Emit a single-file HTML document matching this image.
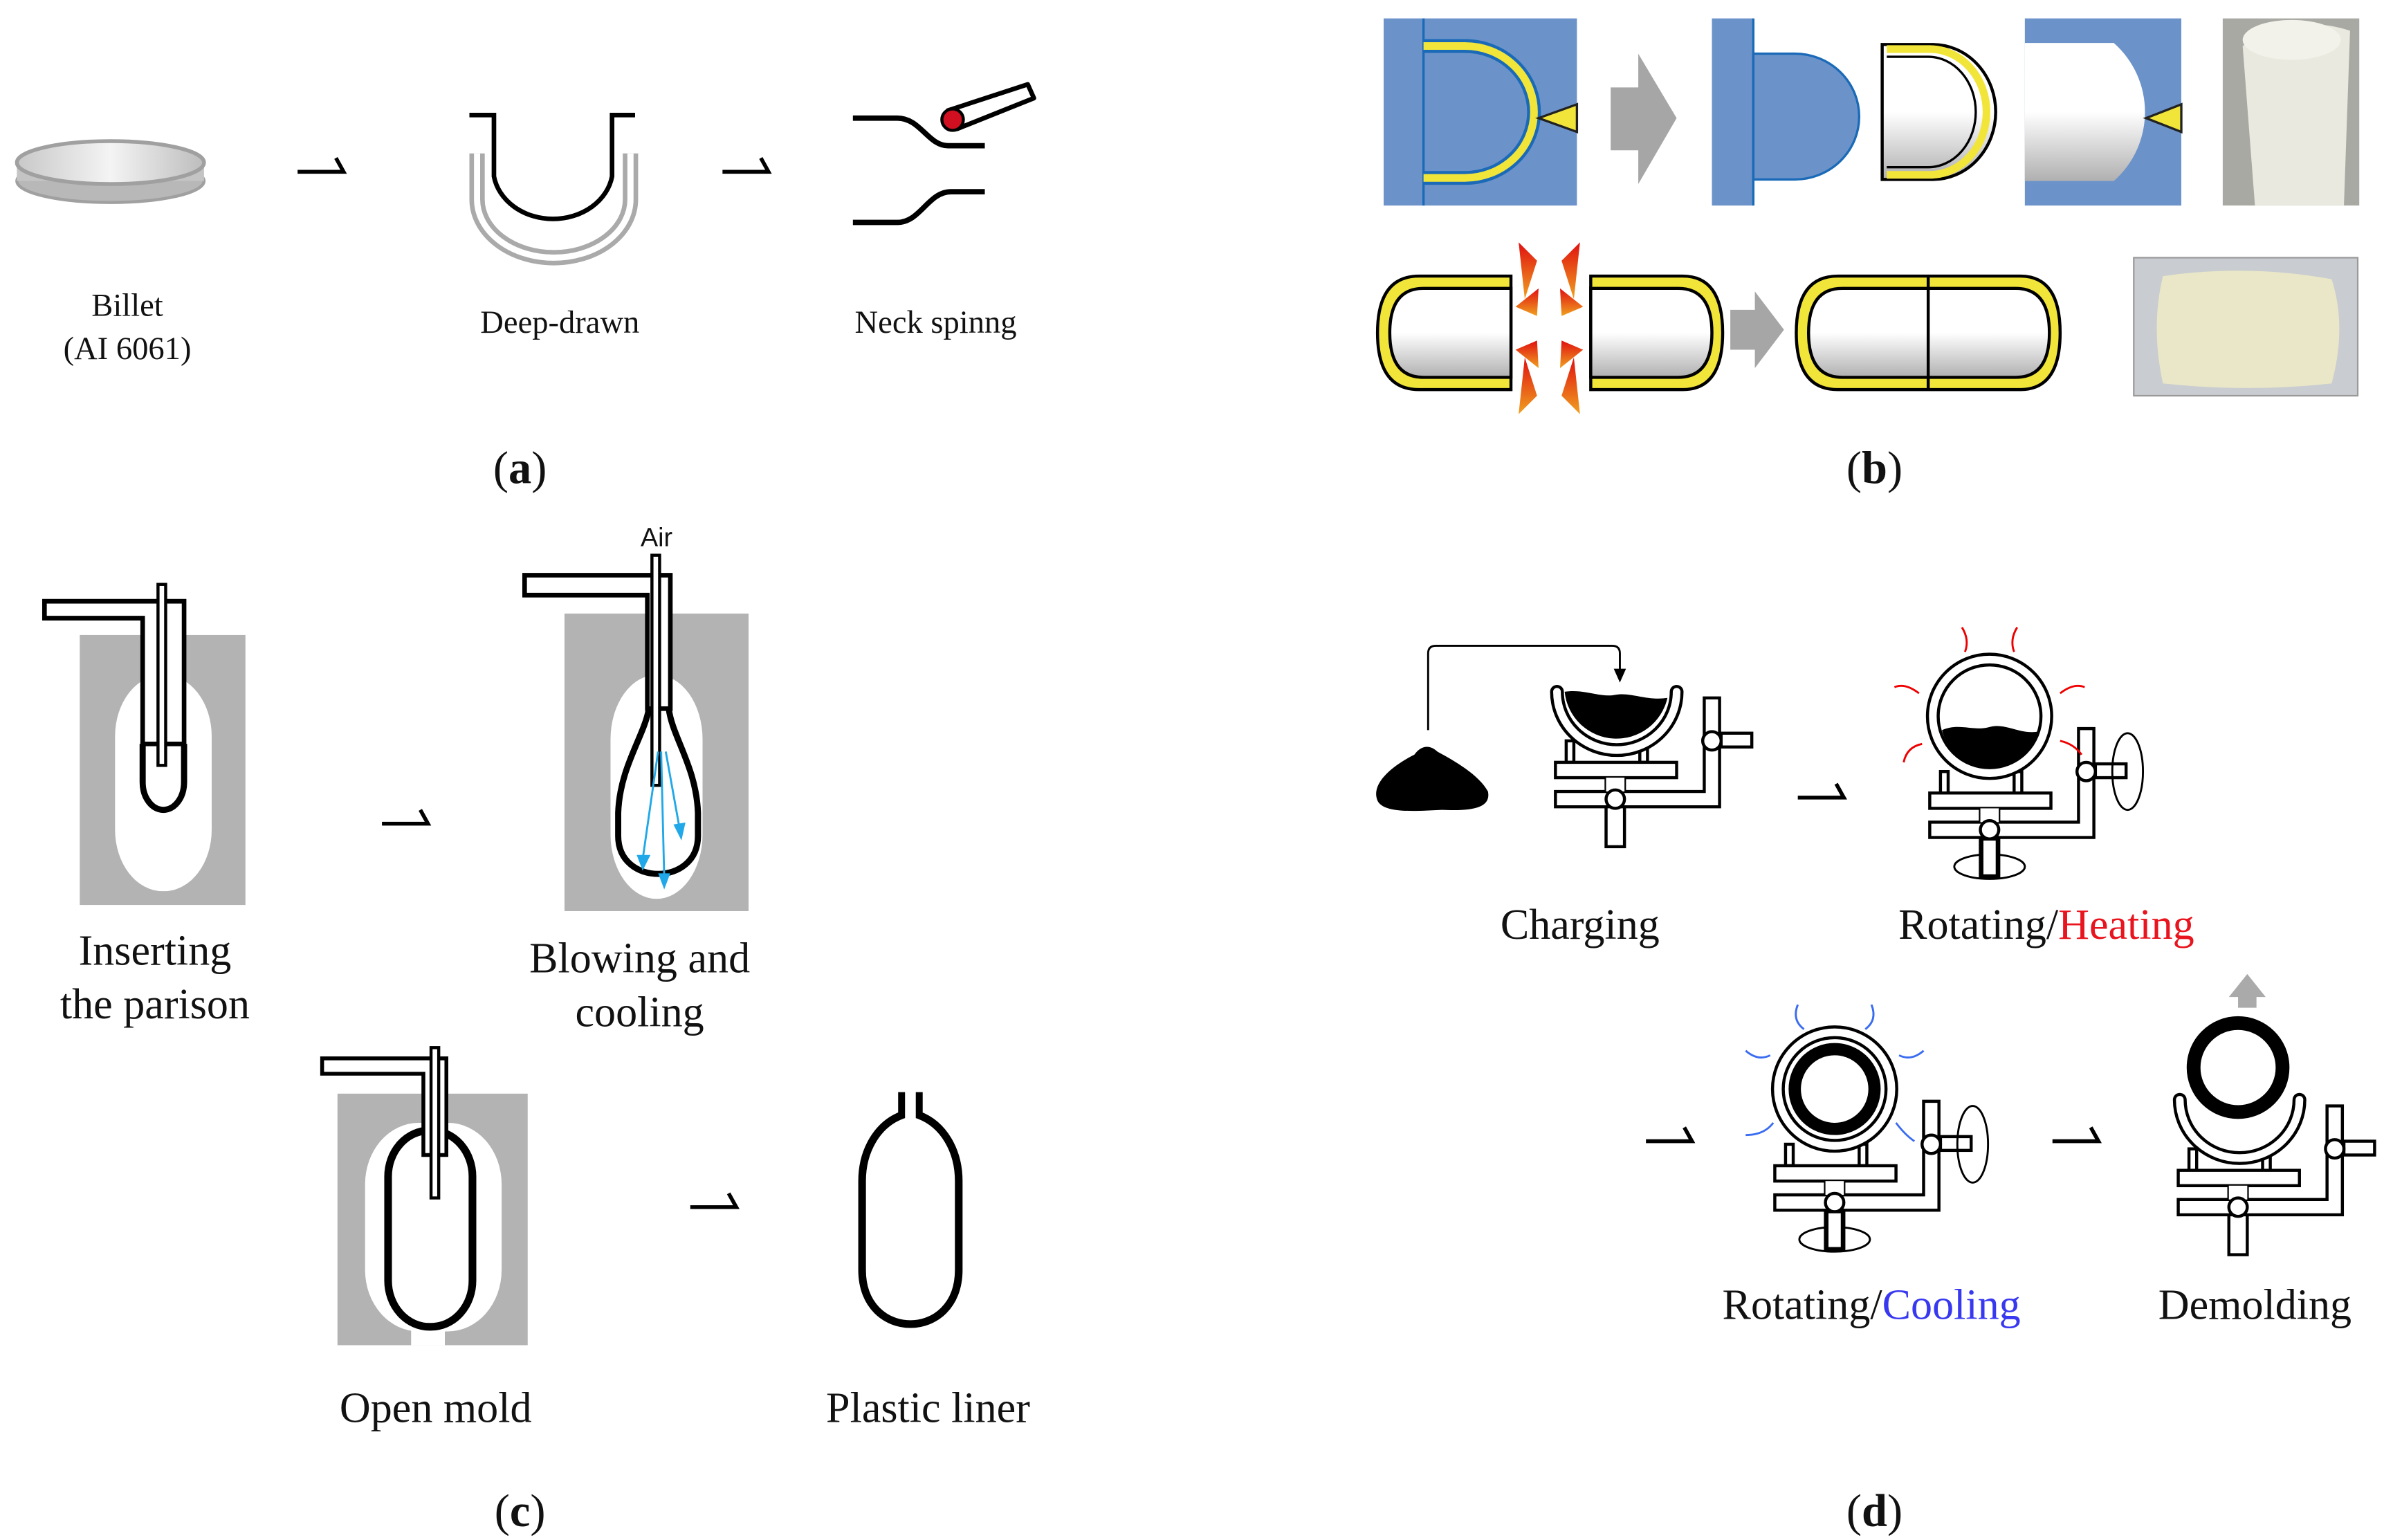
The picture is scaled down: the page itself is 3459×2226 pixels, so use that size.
<!DOCTYPE html>
<html><head><meta charset="utf-8"><style>
html,body{margin:0;padding:0;background:#fff}
svg{display:block}
text{font-family:"Liberation Serif",serif;fill:#111}
</style></head><body>
<svg width="3459" height="2226" viewBox="0 0 1560 1004" preserveAspectRatio="none" xmlns="http://www.w3.org/2000/svg">
<defs>
<linearGradient id="bil" x1="0" x2="1"><stop offset="0" stop-color="#c8c8c8"/><stop offset="0.5" stop-color="#f4f4f4"/><stop offset="1" stop-color="#bdbdbd"/></linearGradient>
<linearGradient id="cyl" x1="0" y1="0" x2="0" y2="1"><stop offset="0" stop-color="#fff"/><stop offset="0.5" stop-color="#fff"/><stop offset="1" stop-color="#b0b0b0"/></linearGradient>
<linearGradient id="fl" x1="0" y1="0" x2="0" y2="1"><stop offset="0" stop-color="#e01010"/><stop offset="1" stop-color="#f0a020"/></linearGradient>
<g id="base" fill="#fff" stroke="#000" stroke-width="2">
<rect x="-32" y="-14" width="5" height="14"/><rect x="16" y="-14" width="5" height="14"/>
<rect x="-6" y="10" width="12" height="45"/>
<rect x="-39" y="0" width="79" height="10"/>
<path d="M-39 19 H58 V-42 H68 V29 H-39 Z"/>
<rect x="-6" y="10" width="12" height="9" stroke="none"/>
<circle cx="0" cy="24" r="6"/>
<rect x="69" y="-19" width="20" height="9"/>
<circle cx="63" cy="-14" r="6"/>
</g>
<g id="bowl">
<path d="M-38 -46 A39 38 0 0 0 40 -46" fill="none" stroke="#000" stroke-width="9" stroke-linecap="round"/>
<path d="M-38 -46 A39 38 0 0 0 40 -46" fill="none" stroke="#fff" stroke-width="5" stroke-linecap="round"/>
</g>
<g id="ring">
<circle cx="0" cy="-50" r="37" fill="none" stroke="#000" stroke-width="9"/>
<circle cx="0" cy="-50" r="37" fill="none" stroke="#fff" stroke-width="5"/>
</g>
<path id="arr" d="M0 0 H30 L25 -9" fill="none" stroke="#000" stroke-width="2.5"/>
</defs>

<!-- Panel a -->
<ellipse cx="72" cy="118" rx="61" ry="14" fill="#b8b8b8" stroke="#a0a0a0" stroke-width="2"/>
<rect x="11" y="106" width="122" height="12" fill="#c4c4c4"/>
<ellipse cx="72" cy="106" rx="61" ry="14" fill="url(#bil)" stroke="#a0a0a0" stroke-width="2.5"/>
<use href="#arr" x="194" y="112"/>
<path d="M311 100 V130 A50 38 0 0 0 411 130 V100" fill="none" stroke="#aaa" stroke-width="10"/>
<path d="M311 100 V130 A50 38 0 0 0 411 130 V100" fill="none" stroke="#fff" stroke-width="4"/>
<path d="M306 75 H322 V115 A39 33 0 0 0 399 115 V75 H414" fill="none" stroke="#000" stroke-width="3"/>
<use href="#arr" x="471" y="112"/>
<path d="M556 77 H585 C600 77 605 95 618 95 H642" fill="none" stroke="#000" stroke-width="3.5"/>
<path d="M556 145 H585 C600 145 605 125 620 125 H642" fill="none" stroke="#000" stroke-width="3.5"/>
<path d="M618 72 L670 55 L674 64 L624 84 Z" fill="#fff" stroke="#000" stroke-width="3" stroke-linejoin="round"/>
<circle cx="621" cy="78" r="7" fill="#d01020" stroke="#000" stroke-width="2"/>
<text x="83" y="206" font-size="21" text-anchor="middle">Billet</text>
<text x="83" y="234" font-size="21" text-anchor="middle">(AI 6061)</text>
<text x="365" y="217" font-size="21" text-anchor="middle">Deep-drawn</text>
<text x="610" y="217" font-size="21" text-anchor="middle">Neck spinng</text>
<text x="339" y="315" font-size="30" text-anchor="middle">(<tspan font-weight="bold">a</tspan>)</text>

<!-- Panel b -->
<rect x="902" y="12" width="126" height="122" fill="#6b93c9"/>
<line x1="928" y1="12" x2="928" y2="134" stroke="#1a6ab8" stroke-width="1.5"/>
<path d="M928 30 H955 A45 43 0 0 1 955 116 H928" fill="none" stroke="#1a6ab8" stroke-width="9"/>
<path d="M928 30 H955 A45 43 0 0 1 955 116 H928" fill="none" stroke="#f2e53a" stroke-width="5"/>
<path d="M1028 68 L1003 77 L1028 86 Z" fill="#f2e53a" stroke="#222" stroke-width="1.5"/>
<path d="M1050 57 H1068 V35 L1093 77 L1068 120 V98 H1050 Z" fill="#a6a6a6"/>
<rect x="1116" y="12" width="27" height="122" fill="#6b93c9"/>
<line x1="1143" y1="12" x2="1143" y2="134" stroke="#1a6ab8" stroke-width="1.5"/>
<path d="M1143 35 H1170 A42 41 0 0 1 1170 117 H1143 Z" fill="#6b93c9" stroke="#1a6ab8" stroke-width="1.5"/>
<path d="M1227 29 H1260 A41 44 0 0 1 1260 117 H1227 Z" fill="url(#cyl)" stroke="#000" stroke-width="2"/>
<path d="M1230 32 H1258 A37 41 0 0 1 1258 114 H1230" fill="none" stroke="#f2e53a" stroke-width="5"/>
<path d="M1230 37 H1257 A31 36 0 0 1 1257 109 H1230" fill="none" stroke="#000" stroke-width="1.5"/>
<rect x="1320" y="12" width="102" height="122" fill="#6b93c9"/>
<path d="M1320 28 H1378 A60 60 0 0 1 1378 118 H1320 Z" fill="url(#cyl)"/>
<path d="M1422 68 L1399 77 L1422 86 Z" fill="#f2e53a" stroke="#222" stroke-width="1.5"/>
<rect x="1449" y="12" width="89" height="122" fill="#a9a9a4"/>
<path d="M1462 30 Q1495 8 1532 20 L1528 134 H1470 Z" fill="#e9e9df"/>
<ellipse cx="1494" cy="26" rx="32" ry="13" fill="#f2f2ea"/>
<!-- bottom b -->
<g stroke="#000" stroke-width="2">
<path d="M985 180 H925 Q898 180 898 217 Q898 254 925 254 H985 Z" fill="#f2e53a"/>
<path d="M985 188 H928 Q906 188 906 217 Q906 246 928 246 H985 Z" fill="url(#cyl)"/>
<path d="M1037 180 H1097 Q1123 180 1123 217 Q1123 254 1097 254 H1037 Z" fill="#f2e53a"/>
<path d="M1037 188 H1094 Q1116 188 1116 217 Q1116 246 1094 246 H1037 Z" fill="url(#cyl)"/>
<path d="M1171 217 Q1171 180 1198 180 H1317 Q1343 180 1343 217 Q1343 254 1317 254 H1198 Q1171 254 1171 217 Z" fill="#f2e53a"/>
<path d="M1179 217 Q1179 188 1201 188 H1314 Q1336 188 1336 217 Q1336 246 1314 246 H1201 Q1179 246 1179 217 Z" fill="url(#cyl)"/>
<line x1="1257" y1="180" x2="1257" y2="254"/>
</g>
<g fill="url(#fl)">
<path d="M990 158 L1002 170 L994 195 Z"/><path d="M1030 158 L1018 170 L1026 195 Z"/>
<path d="M988 200 L1003 188 L1002 206 Z"/><path d="M1032 200 L1017 188 L1018 206 Z"/>
<path d="M990 270 L1002 258 L994 233 Z"/><path d="M1030 270 L1018 258 L1026 233 Z"/>
<path d="M988 228 L1003 240 L1002 222 Z"/><path d="M1032 228 L1017 240 L1018 222 Z"/>
</g>
<path d="M1128 202 H1144 V190 L1163 215 L1144 240 V228 H1128 Z" fill="#a6a6a6"/>
<rect x="1391" y="168" width="146" height="90" fill="#c9ccd0" stroke="#999"/>
<path d="M1410 180 Q1465 172 1520 182 Q1530 213 1520 250 Q1465 256 1410 250 Q1402 213 1410 180 Z" fill="#e9e7c8"/>
<text x="1222" y="315" font-size="30" text-anchor="middle">(<tspan font-weight="bold">b</tspan>)</text>

<!-- Panel c -->
<rect x="52" y="414" width="108" height="176" fill="#b3b3b3"/>
<rect x="75" y="440" width="63" height="141" rx="31" ry="40" fill="#fff"/>
<path d="M93 485 V510 A13.5 18 0 0 0 120 510 V485" fill="#fff" stroke="#000" stroke-width="4"/>
<path d="M29 392 H120 V485 H93 V403 H29 Z" fill="#fff" stroke="#000" stroke-width="3"/>
<rect x="103" y="381" width="5" height="118" fill="#fff" stroke="#000" stroke-width="2"/>
<use href="#arr" x="249" y="537"/>
<rect x="368" y="400" width="120" height="194" fill="#b3b3b3"/>
<rect x="398" y="440" width="60" height="146" rx="30" ry="42" fill="#fff"/>
<path d="M423 462 C420 480 404 500 403 530 V545 C403 578 455 578 455 545 V530 C454 500 438 480 436 462" fill="#fff" stroke="#000" stroke-width="4"/>
<path d="M342 375 H437 V462 H422 V388 H342 Z" fill="#fff" stroke="#000" stroke-width="3"/>
<rect x="425" y="362" width="5" height="150" fill="#fff" stroke="#000" stroke-width="2"/>
<g stroke="#20a8e8" stroke-width="1.3" fill="#20a8e8">
<line x1="429" y1="490" x2="419" y2="560"/><path d="M416 558 L419 566 L423 558 Z"/>
<line x1="431" y1="490" x2="433" y2="572"/><path d="M430 570 L433 578 L436 570 Z"/>
<line x1="434" y1="490" x2="443" y2="540"/><path d="M440 538 L444 546 L446 537 Z"/>
</g>
<text x="428" y="356" font-size="17" text-anchor="middle" style="font-family:'Liberation Sans',sans-serif">Air</text>
<text x="101" y="629" font-size="28" text-anchor="middle">Inserting</text>
<text x="101" y="664" font-size="28" text-anchor="middle">the parison</text>
<text x="417" y="634" font-size="28" text-anchor="middle">Blowing and</text>
<text x="417" y="669" font-size="28" text-anchor="middle">cooling</text>
<rect x="220" y="713" width="124" height="164" fill="#b3b3b3"/>
<rect x="238" y="732" width="89" height="136" rx="35" ry="40" fill="#fff"/>
<rect x="268" y="850" width="22" height="27" fill="#fff"/>
<rect x="253" y="737" width="55" height="128" rx="27" ry="30" fill="#fff" stroke="#000" stroke-width="5"/>
<path d="M210 690 H291 V753 H276 V700 H210 Z" fill="#fff" stroke="#000" stroke-width="2.5"/>
<rect x="281" y="683" width="5" height="98" fill="#fff" stroke="#000" stroke-width="2"/>
<use href="#arr" x="450" y="787"/>
<path d="M588 712 V727 C572 733 562 750 562 770 V828 C562 875 625 875 625 828 V770 C625 750 615 733 599 727 V712" fill="#fff" stroke="#000" stroke-width="5"/>
<rect x="590" y="708" width="7" height="24" fill="#fff"/>
<text x="284" y="927" font-size="28" text-anchor="middle">Open mold</text>
<text x="605" y="927" font-size="28" text-anchor="middle">Plastic liner</text>
<text x="339" y="995" font-size="30" text-anchor="middle">(<tspan font-weight="bold">c</tspan>)</text>

<!-- Panel d -->
<path d="M898 522 C893 510 910 498 922 492 C927 485 933 486 937 490 C948 496 964 505 970 516 C972 526 962 529 940 528 C920 529 902 530 898 522 Z" fill="#000"/>
<path d="M931 476 V426 Q931 421 936 421 H1051 Q1056 421 1056 426 V440" fill="none" stroke="#000" stroke-width="1.3"/>
<path d="M1052 436 L1056 445 L1060 436 Z" fill="#000"/>
<!-- charging -->
<g transform="translate(1053,497)">
<use href="#base"/>
<path d="M-33 -46 C-20 -48 -10 -42 0 -44 C10 -46 20 -40 34 -42 A34 34 0 0 1 -33 -46 Z" fill="#000"/>
<use href="#bowl"/>
</g>
<use href="#arr" x="1172" y="520"/>
<!-- heating -->
<g transform="translate(1297,517)">
<ellipse cx="0" cy="48" rx="23" ry="8" fill="none" stroke="#000" stroke-width="1.3"/>
<use href="#base"/>
<rect x="-5" y="30" width="10" height="24" fill="#fff" stroke="#000" stroke-width="2"/>
<ellipse cx="90" cy="-14" rx="10" ry="25" fill="none" stroke="#000" stroke-width="1.3"/>
<path d="M-31 -41 C-20 -46 -10 -40 0 -43 C10 -46 20 -38 31 -40 A32 32 0 0 1 -31 -41 Z" fill="#000"/>
<use href="#ring"/>
<g fill="none" stroke="#e00" stroke-width="1.3">
<path d="M-18 -108 Q-13 -100 -16 -92"/><path d="M18 -108 Q13 -100 16 -92"/>
<path d="M-62 -69 Q-55 -72 -46 -65"/><path d="M62 -69 Q55 -72 46 -65"/>
<path d="M-56 -20 Q-54 -30 -44 -32"/><path d="M60 -25 Q55 -32 46 -34"/>
</g>
</g>
<text x="1334" y="612" font-size="28" text-anchor="middle">Rotating/<tspan style="fill:#e8141e">Heating</tspan></text>
<text x="1030" y="612" font-size="28" text-anchor="middle">Charging</text>
<!-- cooling -->
<use href="#arr" x="1073" y="744"/>
<g transform="translate(1196,760)">
<ellipse cx="0" cy="48" rx="23" ry="8" fill="none" stroke="#000" stroke-width="1.3"/>
<use href="#base"/>
<rect x="-5" y="30" width="10" height="24" fill="#fff" stroke="#000" stroke-width="2"/>
<ellipse cx="90" cy="-14" rx="10" ry="25" fill="none" stroke="#000" stroke-width="1.3"/>
<use href="#ring"/>
<circle cx="0" cy="-50" r="26" fill="#fff" stroke="#000" stroke-width="8"/>
<g fill="none" stroke="#3a6cf0" stroke-width="1.3">
<path d="M-20 -89 Q-28 -95 -24 -105"/><path d="M20 -89 Q28 -95 24 -105"/>
<path d="M-42 -72 Q-50 -68 -58 -75"/><path d="M42 -72 Q50 -68 58 -75"/>
<path d="M-40 -28 Q-46 -20 -58 -20"/><path d="M40 -28 Q46 -20 52 -16"/>
</g>
</g>
<use href="#arr" x="1338" y="744"/>
<text x="1220" y="860" font-size="28" text-anchor="middle">Rotating/<tspan style="fill:#3838f0">Cooling</tspan></text>
<!-- demolding -->
<g transform="translate(1459,763)">
<use href="#base"/>
<use href="#bowl"/>
<circle cx="0" cy="-67" r="29" fill="#fff" stroke="#000" stroke-width="9"/>
</g>
<path d="M1465 635 L1477 650 H1471 V657 H1459 V650 H1453 Z" fill="#aaa"/>
<text x="1470" y="860" font-size="28" text-anchor="middle">Demolding</text>
<text x="1222" y="995" font-size="30" text-anchor="middle">(<tspan font-weight="bold">d</tspan>)</text>
</svg>
</body></html>
